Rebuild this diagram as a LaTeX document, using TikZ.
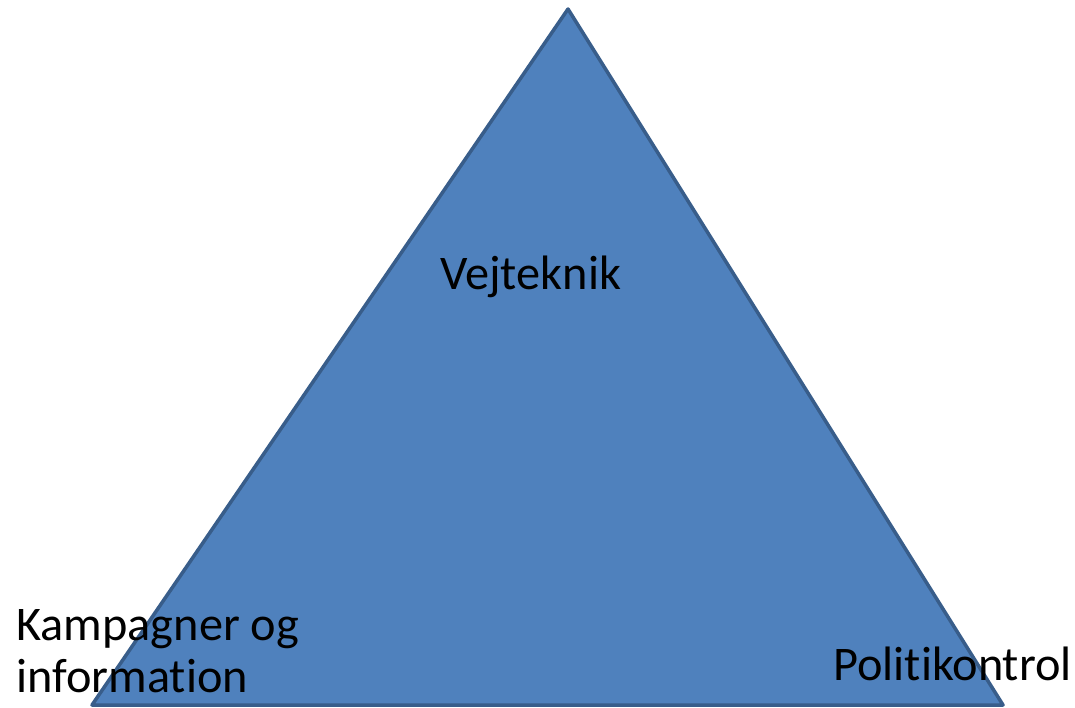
\documentclass[tikz,border=0pt]{standalone}
\usepackage{fontspec}
\setmainfont[Ligatures={NoCommon}]{Carlito}
\definecolor{trifill}{HTML}{4F81BD}
\definecolor{triline}{HTML}{385D8A}

\begin{document}
\begin{tikzpicture}[x=0.02cm, y=-0.02cm]
        \tikzstyle{every node}=[inner sep=0pt, font=\fontsize{27.5}{29}\selectfont]
        \tikzstyle{label}=[anchor=base west, align=left]
        \useasboundingbox (0,0) rectangle (1075,707);
        \coordinate (top) at (568,9);
        \coordinate (left) at (92,705);
        \coordinate (right) at (1003,705);
        \draw [fill=trifill, draw=triline, line width=2pt, line join=round] (top) -- (right) -- (left) -- cycle;
        \node [label] (vej) at (440,289) {Vejteknik};
        \node [label] (kamp) at (16,640) {Kampagner og};
        \node [label] (info) at (16,692) {information};
        \node [label] (pol) at (833,680) {Politikontrol};
    \end{tikzpicture}
\end{document}
